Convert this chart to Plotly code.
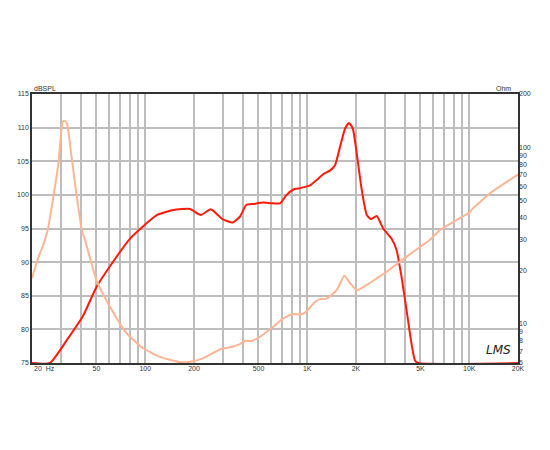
import numpy as np
import plotly.graph_objects as go

# SPL curve (dB)
spl_freq = [20, 25.8, 32.8, 41.5, 50.1, 63.5, 80.6, 100, 117.7, 149, 189, 220, 254, 300, 346, 384, 420, 466, 537, 604, 680, 746, 822, 905, 1040, 1143, 1260, 1380, 1484, 1596, 1716, 1812, 1910, 2020, 2172, 2332, 2478, 2686, 2944, 3312, 3560, 3820, 4100, 4400, 4620, 4840, 20000]
spl_db = [75, 75, 78.4, 82.1, 86.35, 90.1, 93.5, 95.6, 97.0, 97.75, 97.9, 97.0, 97.85, 96.4, 95.9, 96.75, 98.5, 98.65, 98.85, 98.75, 98.75, 100.0, 100.8, 101.0, 101.4, 102.2, 103.1, 103.6, 104.4, 107.2, 109.9, 110.7, 109.9, 106.2, 100.7, 97.0, 96.4, 96.85, 95.0, 93.5, 91.8, 87.8, 82.9, 77.9, 75.4, 75, 75]

# Impedance curve (Ohm)
imp_freq = [20, 21.8, 23.3, 25.0, 27.1, 29.1, 30.9, 31.6, 32.8, 35.1, 37.8, 40.6, 42.5, 50, 60.6, 76.8, 97.2, 123.3, 163, 189, 227, 289, 333, 384, 413, 455, 512, 617, 711, 822, 905, 974, 1116, 1200, 1318, 1520, 1694, 1838, 2020, 2332, 2686, 3092, 3740, 4520, 5700, 6600, 8360, 10140, 10400, 13460, 20000]
imp_ohm = [18.1, 23.5, 27.5, 34.0, 52.4, 81.0, 139, 141, 137, 88.0, 52.4, 34.0, 29.8, 17.7, 12.5, 8.84, 7.27, 6.5, 6.07, 6.1, 6.37, 7.16, 7.36, 7.68, 8.0, 8.0, 8.45, 9.62, 10.74, 11.36, 11.3, 11.6, 13.3, 13.8, 13.9, 15.5, 18.7, 17.0, 15.5, 16.6, 18.1, 19.7, 22.5, 25.6, 29.8, 34.0, 38.7, 43.0, 44.5, 54.8, 70]

x_grid = [20, 30, 40, 50, 60, 70, 80, 90, 100, 200, 300, 400, 500, 600, 700, 800, 900,
          1000, 2000, 3000, 4000, 5000, 6000, 7000, 8000, 9000, 10000, 20000]
x_labels = {50: "50", 100: "100", 200: "200", 500: "500", 1000: "1K", 2000: "2K",
            5000: "5K", 10000: "10K", 20000: "20K"}
x_first_label = "20&nbsp;&nbsp;Hz"
y_left_ticks = [75, 80, 85, 90, 95, 100, 105, 110, 115]
y_right_ticks = [6, 7, 8, 9, 10, 20, 30, 40, 50, 60, 70, 80, 90, 100, 200]

FONT = "Liberation Sans, Arial, sans-serif"
GRID = "#bdbdbd"
FRAME = "#333333"
TXT = "#333333"
TICKFONT = dict(family=FONT, size=7, color=TXT)

fig = go.Figure()
fig.add_trace(go.Scatter(x=imp_freq, y=imp_ohm, yaxis="y2", mode="lines",
                         line=dict(color="#ffb594", width=2, shape="spline", smoothing=0.5),
                         hoverinfo="skip", showlegend=False))
fig.add_trace(go.Scatter(x=spl_freq, y=spl_db, mode="lines",
                         line=dict(color="#ff1a0a", width=2, shape="spline", smoothing=0.5),
                         hoverinfo="skip", showlegend=False))

fig.update_layout(
    template="none",
    width=550, height=450,
    margin=dict(l=24, r=40, t=86, b=95),
    paper_bgcolor="white", plot_bgcolor="white",
    font=dict(family=FONT, size=7, color=TXT),
    xaxis=dict(type="log", range=[np.log10(20), np.log10(20000)],
               tickmode="array", tickvals=x_grid,
               ticktext=[x_labels.get(v, "") for v in x_grid],
               showgrid=True, gridcolor=GRID, gridwidth=1.8,
               showline=True, mirror=True, linecolor=FRAME, linewidth=1.6,
               ticks="", tickfont=TICKFONT, zeroline=False,
               ticklabelstandoff=-2, automargin=False),
    yaxis=dict(range=[75, 115], tickmode="array", tickvals=y_left_ticks,
               showgrid=True, gridcolor=GRID, gridwidth=1.8,
               showline=True, mirror=True, linecolor=FRAME, linewidth=1.6,
               ticks="", tickfont=TICKFONT, zeroline=False, automargin=False),
    yaxis2=dict(type="log", range=[np.log10(6), np.log10(200)], overlaying="y", side="right",
                tickmode="array", tickvals=y_right_ticks,
                ticktext=[str(v) for v in y_right_ticks],
                showgrid=False, showline=False, ticks="", tickfont=TICKFONT,
                zeroline=False, automargin=False),
)

fig.add_annotation(text=x_first_label, xref="paper", yref="paper", x=0, y=0, xanchor="left",
                   yanchor="top", yshift=0, showarrow=False, font=TICKFONT)
fig.add_annotation(text="dBSPL", xref="paper", yref="paper", x=0, y=1, xanchor="left",
                   yanchor="bottom", showarrow=False, font=TICKFONT)
fig.add_annotation(text="Ohm", xref="paper", yref="paper", x=0.99, y=1, xanchor="right",
                   yanchor="bottom", showarrow=False, font=TICKFONT)
fig.add_annotation(text="<i>LMS</i>", xref="paper", yref="paper", x=0.99, y=0.015, xanchor="right",
                   yanchor="bottom", showarrow=False,
                   font=dict(size=12, color="#222222", family="DejaVu Sans"))

fig.write_html("out.html")
